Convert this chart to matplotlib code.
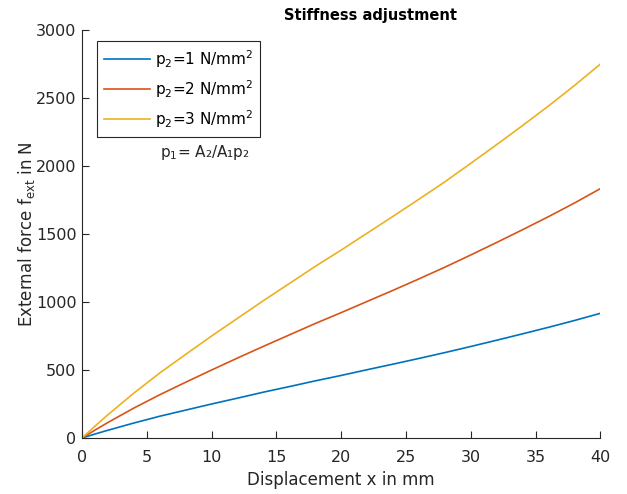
import matplotlib
matplotlib.use("Agg")
import matplotlib.pyplot as plt

plt.rcParams['font.family'] = ['DejaVu Sans']
plt.rcParams['mathtext.default'] = 'regular'

# displacement in mm
x = [0, 1, 2, 4, 6, 8, 10, 12, 14, 16, 18, 20, 22, 24, 26, 28, 30, 32, 34, 36, 38, 40]

# external force in N
f_p1 = [0, 29, 57, 110, 160, 205, 250, 293, 337, 378, 420, 460, 502, 543, 585, 628,
        673, 719, 766, 814, 864, 917]
f_p2 = [0, 58, 114, 220, 318, 410, 500, 588, 674, 758, 842, 922, 1004, 1086, 1170, 1256,
        1346, 1438, 1532, 1628, 1728, 1834]
f_p3 = [0, 87, 171, 330, 478, 615, 750, 880, 1010, 1136, 1262, 1382, 1506, 1630, 1756, 1884,
        2020, 2158, 2298, 2442, 2592, 2750]

labels = ['p$_2$=1 N/mm$^2$', 'p$_2$=2 N/mm$^2$', 'p$_2$=3 N/mm$^2$']
colors = ['#0072bd', '#d95319', '#edb120']

fig = plt.figure(figsize=(6.27, 4.94), dpi=100)
ax = fig.add_axes([0.1308, 0.1134, 0.8269, 0.8259])

for y, lab, c in zip([f_p1, f_p2, f_p3], labels, colors):
    ax.plot(x, y, color=c, lw=1.2, label=lab)

ax.set_xlim(0, 40)
ax.set_ylim(0, 3000)
ax.set_xticks(range(0, 41, 5))
ax.set_yticks(range(0, 3001, 500))

ax.spines['top'].set_visible(False)
ax.spines['right'].set_visible(False)
for s in ['left', 'bottom']:
    ax.spines[s].set_color('#262626')
    ax.spines[s].set_linewidth(0.8)
ax.tick_params(direction='in', length=5, width=0.8, colors='#262626', labelsize=11.5)
ax.tick_params(axis='x', pad=9)
ax.tick_params(axis='y', pad=4)

ax.set_xlabel('Displacement x in mm', fontsize=12, color='#262626', labelpad=4)
ax.set_ylabel('External force f$_{ext}$ in N', fontsize=12, color='#262626', labelpad=-1)
ax.text(0.556, 1.035, 'Stiffness adjustment', transform=ax.transAxes, ha='center',
        va='center', fontsize=10.5, fontweight='bold', color='black')

leg = ax.legend(loc='upper left', bbox_to_anchor=(0.029, 0.973), fontsize=11,
                handlelength=3.0, handletextpad=0.35, labelspacing=0.55, fancybox=False,
                edgecolor='#262626', framealpha=1, borderpad=0.45, borderaxespad=0)
leg.get_frame().set_linewidth(0.8)

ax.text(0.15, 0.70, 'p$_1$= A₂/A₁p₂', transform=ax.transAxes, fontsize=11,
        color='#262626', va='center')

fig.savefig('out.png', dpi=100)
